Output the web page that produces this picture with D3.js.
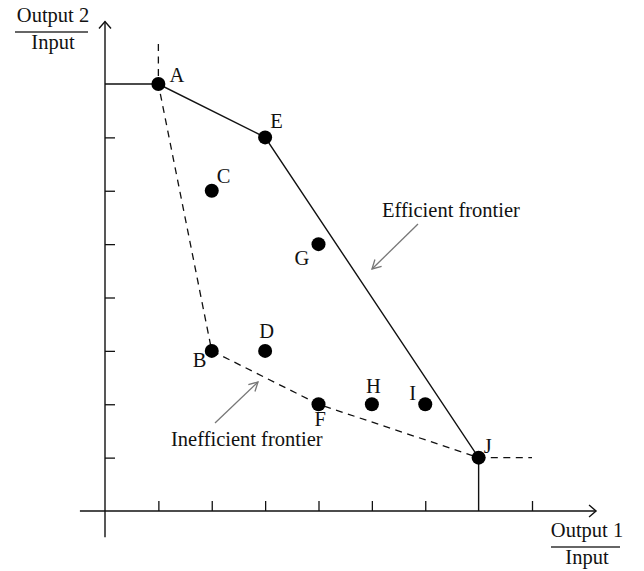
<!DOCTYPE html>
<html>
<head>
<meta charset="utf-8">
<script src="https://cdn.jsdelivr.net/npm/d3@7"></script>
<style>
  body { margin: 0; background: #fff; }
  text { font-family: "Liberation Serif", "DejaVu Serif", serif; fill: #111; }
</style>
</head>
<body>
<svg id="chart"></svg>
<script>
// DMU points (grid units)
const names = ["A", "B", "C", "D", "E", "F", "G", "H", "I", "J"];
const xVals = [1, 2, 2, 3, 3, 4, 4, 5, 6, 7];
const yVals = [8, 3, 6, 3, 7, 2, 5, 2, 2, 1];

// frontiers, as point names
const efficient = ["A", "E", "J"];
const inefficient = ["A", "B", "F", "J"];

const xTicks = [1, 2, 3, 4, 5, 6, 8];
const yTicks = [1, 2, 3, 4, 5, 6, 7];

const width = 644, height = 571;
const fs = 20.5;

const svg = d3.select('#chart')
    .attr('width', width)
    .attr('height', height);

const x = d3.scaleLinear().domain([0, 8]).range([105, 532]);
const y = d3.scaleLinear().domain([0, 8]).range([511, 84]);

const pts = new Map(names.map((n, i) => [n, [xVals[i], yVals[i]]]));

// ticks (drawn inward, no labels)
svg.append('g')
    .attr('transform', `translate(0,${y(0)})`)
    .call(d3.axisBottom(x).tickValues(xTicks).tickSize(-10).tickFormat(''))
    .call(g => g.select('.domain').remove())
    .call(g => g.selectAll('line').attr('stroke', '#111').attr('stroke-width', 1.3));

svg.append('g')
    .attr('transform', `translate(${x(0)},0)`)
    .call(d3.axisLeft(y).tickValues(yTicks).tickSize(-10).tickFormat(''))
    .call(g => g.select('.domain').remove())
    .call(g => g.selectAll('line').attr('stroke', '#111').attr('stroke-width', 1.3));

// axis lines with open arrowheads
const axisG = svg.append('g').attr('stroke', '#111').attr('stroke-width', 1.4).attr('fill', 'none');
const xEnd = x(9.2), yEnd = y(9.17);
axisG.append('line').attr('x1', x(-0.47)).attr('x2', xEnd).attr('y1', y(0)).attr('y2', y(0));
axisG.append('line').attr('x1', x(0)).attr('x2', x(0)).attr('y1', y(-0.49)).attr('y2', yEnd);
axisG.append('path').attr('d', `M${xEnd - 7},${y(0) - 6}L${xEnd},${y(0)}L${xEnd - 7},${y(0) + 6}`);
axisG.append('path').attr('d', `M${x(0) - 6},${yEnd + 7}L${x(0)},${yEnd}L${x(0) + 6},${yEnd + 7}`);

const line = d3.line().x(d => x(d[0])).y(d => y(d[1]));

// efficient frontier (solid) incl. horizontal and vertical extensions
const A = pts.get('A'), J = pts.get('J');
const effPath = [[0, A[1]]].concat(efficient.map(n => pts.get(n)), [[J[0], 0]]);
svg.append('path')
    .attr('d', line(effPath))
    .attr('fill', 'none')
    .attr('stroke', '#111')
    .attr('stroke-width', 1.4);

// inefficient frontier (dashed) incl. extensions
const ineffPath = [[A[0], 8.75]].concat(inefficient.map(n => pts.get(n)), [[8, J[1]]]);
svg.append('path')
    .attr('d', line(ineffPath))
    .attr('fill', 'none')
    .attr('stroke', '#111')
    .attr('stroke-width', 1.3)
    .attr('stroke-dasharray', '7,5.5');

// points
svg.append('g').selectAll('circle')
  .data(names)
  .join('circle')
    .attr('cx', d => x(pts.get(d)[0]))
    .attr('cy', d => y(pts.get(d)[1]))
    .attr('r', 7)
    .attr('fill', '#000');

// label offsets (px from point centre)
const labelOffset = {
  A: [11, -2], B: [-19, 16], C: [5, -8], D: [-6, -13], E: [5, -9],
  F: [-4, 22], G: [-24, 21], H: [-6, -11], I: [-16, -4], J: [5, -5]
};
svg.append('g').selectAll('text')
  .data(names)
  .join('text')
    .attr('x', d => x(pts.get(d)[0]) + labelOffset[d][0])
    .attr('y', d => y(pts.get(d)[1]) + labelOffset[d][1])
    .attr('font-size', fs)
    .text(d => d);

// annotations
const arrow = (x1, y1, x2, y2) => {
  const g = svg.append('g').attr('stroke', '#777').attr('stroke-width', 1.3).attr('fill', 'none');
  g.append('line').attr('x1', x1).attr('y1', y1).attr('x2', x2).attr('y2', y2);
  const ang = Math.atan2(y2 - y1, x2 - x1), L = 10, w = 0.5;
  const p1 = [x2 - L * Math.cos(ang - w), y2 - L * Math.sin(ang - w)];
  const p2 = [x2 - L * Math.cos(ang + w), y2 - L * Math.sin(ang + w)];
  g.append('path').attr('d', `M${p1}L${x2},${y2}L${p2}`);
};

svg.append('text').attr('x', 382).attr('y', 217).attr('font-size', fs).text('Efficient frontier');
arrow(418, 224, 372, 269);

svg.append('text').attr('x', 171).attr('y', 446).attr('font-size', fs).text('Inefficient frontier');
arrow(215, 423, 258, 382);

// axis titles as fractions
const fraction = (cx, top, bottom, lineY, x1, x2) => {
  svg.append('text').attr('x', cx).attr('y', lineY - 10).attr('text-anchor', 'middle').attr('font-size', fs).text(top);
  svg.append('line').attr('x1', x1).attr('x2', x2).attr('y1', lineY).attr('y2', lineY)
      .attr('stroke', '#333').attr('stroke-width', 1.4);
  svg.append('text').attr('x', cx).attr('y', lineY + 17).attr('text-anchor', 'middle').attr('font-size', fs).text(bottom);
};
fraction(53, 'Output 2', 'Input', 32, 15, 88);
fraction(587, 'Output 1', 'Input', 547, 551, 620);
</script>
</body>
</html>
